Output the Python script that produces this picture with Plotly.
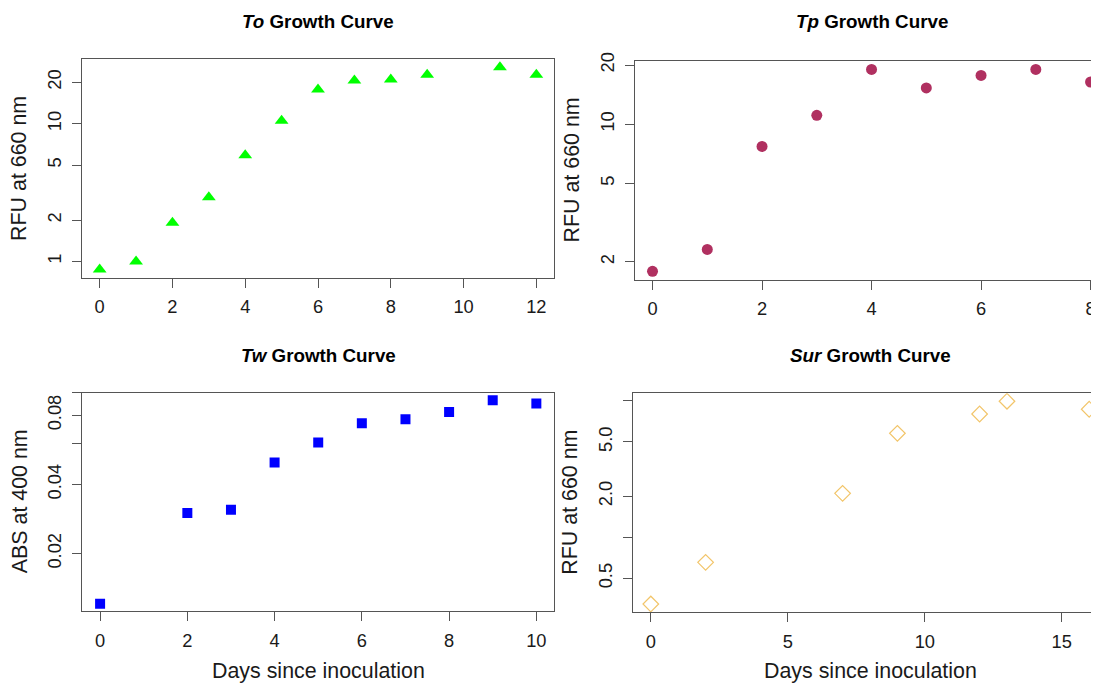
import plotly.graph_objects as go

W, H = 1099, 683
OFF = 8  # the page body offsets the figure by 8 px; positions below are page pixels

# ---------------- data ----------------
to_days = [0, 1, 2, 3, 4, 5, 6, 7, 8, 9, 11, 12]
to_rfu = [0.876, 1.0, 1.91, 2.93, 5.92, 10.5, 17.7, 20.6, 21.0, 22.7, 25.7, 22.7]

tp_days = [0, 1, 2, 3, 4, 5, 6, 7, 8]
tp_rfu = [1.79, 2.31, 7.71, 11.1, 19.0, 15.3, 17.7, 19.0, 16.4]

tw_days = [0, 2, 3, 4, 5, 6, 7, 8, 9, 10]
tw_abs = [0.0121, 0.0300, 0.0310, 0.0498, 0.0609, 0.0738, 0.0769, 0.0827, 0.0929, 0.0900]

sur_days = [0, 2, 7, 9, 12, 13, 16]
sur_rfu = [0.324, 0.655, 2.10, 5.79, 8.02, 9.95, 8.69]

to_xticks = [0, 2, 4, 6, 8, 10, 12]
tp_xticks = [0, 2, 4, 6, 8]
tw_xticks = [0, 2, 4, 6, 8, 10]
sur_xticks = [0, 5, 10, 15]

to_yticks = [1, 2, 5, 10, 20]
to_ylabels = ["1", "2", "5", "10", "20"]
tp_yticks = [2, 5, 10, 20]
tp_ylabels = ["2", "5", "10", "20"]
tw_yticks = [0.02, 0.04, 0.06, 0.08, 0.1]
tw_ylabels = ["0.02", "0.04", "", "0.08", ""]
sur_yticks = [0.5, 1, 2, 5, 10]
sur_ylabels = ["0.5", "", "2.0", "5.0", ""]

FONT = "Liberation Sans, Arial, Helvetica, sans-serif"
LINE = "#555555"
TXT = "#1a1a1a"


def px(x):
    return (x - OFF) / W


def py(y):
    return 1 - (y - OFF) / H


# panel boxes in page pixels: left, right, top, bottom
boxes = {
    "to": (82.2, 553.8, 59.3, 277.5),
    "tp": (635.0, W + OFF, 61.3, 279.5),
    "tw": (82.2, 553.8, 392.5, 611.0),
    "sur": (633.0, W + OFF, 393.3, 612.0),
}

fig = go.Figure()

fig.add_trace(go.Scatter(x=to_days, y=to_rfu, mode="markers", xaxis="x", yaxis="y",
                         marker=dict(symbol="triangle-up", size=12, color="#00FF00"),
                         showlegend=False))
fig.add_trace(go.Scatter(x=tp_days, y=tp_rfu, mode="markers", xaxis="x2", yaxis="y2",
                         marker=dict(symbol="circle", size=11, color="#B03060"),
                         showlegend=False))
fig.add_trace(go.Scatter(x=tw_days, y=tw_abs, mode="markers", xaxis="x3", yaxis="y3",
                         marker=dict(symbol="square", size=10, color="#0000FF"),
                         showlegend=False))
fig.add_trace(go.Scatter(x=sur_days, y=sur_rfu, mode="markers", xaxis="x4", yaxis="y4",
                         marker=dict(symbol="diamond-open", size=12, color="#F2C56A",
                                     line=dict(width=1.2)),
                         showlegend=False))


def xaxis(box, rng, ticks, anchor):
    l, r, t, b = box
    return dict(domain=[px(l), min(1.0, px(r))], range=rng, anchor=anchor,
                tickmode="array", tickvals=ticks, ticktext=[str(v) for v in ticks],
                showline=True, linecolor=LINE, linewidth=1, mirror=True,
                ticks="outside", ticklen=9, tickcolor=LINE, tickwidth=1,
                showgrid=False, zeroline=False, ticklabelstandoff=4, automargin=False,
                tickfont=dict(family=FONT, size=18.3, color=TXT))


def yaxis(box, rng, ticks, labels, anchor):
    l, r, t, b = box
    return dict(domain=[py(b), py(t)], range=rng, type="log", anchor=anchor,
                tickmode="array", tickvals=ticks, ticktext=labels,
                showline=True, linecolor=LINE, linewidth=1, mirror=True,
                ticks="outside", ticklen=9, tickcolor=LINE, tickwidth=1,
                showgrid=False, zeroline=False, tickangle=-90, ticklabelstandoff=4,
                automargin=False,
                tickfont=dict(family=FONT, size=18.3, color=TXT))


fig.update_layout(
    template="none",
    width=W, height=H, margin=dict(l=0, r=0, t=0, b=0, autoexpand=False),
    paper_bgcolor="white", plot_bgcolor="white",
    xaxis=xaxis(boxes["to"], [-0.48, 12.48], to_xticks, "y"),
    yaxis=yaxis(boxes["to"], [-0.116, 1.468], to_yticks, to_ylabels, "x"),
    xaxis2=xaxis(boxes["tp"], [-0.32, 8.30], tp_xticks, "y2"),
    yaxis2=yaxis(boxes["tp"], [0.211, 1.320], tp_yticks, tp_ylabels, "x2"),
    xaxis3=xaxis(boxes["tw"], [-0.41, 10.40], tw_xticks, "y3"),
    yaxis3=yaxis(boxes["tw"], [-1.949, -0.998], tw_yticks, tw_ylabels, "x3"),
    xaxis4=xaxis(boxes["sur"], [-0.65, 16.65], sur_xticks, "y4"),
    yaxis4=yaxis(boxes["sur"], [-0.548, 1.056], sur_yticks, sur_ylabels, "x4"),
    showlegend=False,
)

annotations = []
titles = [("<b><i>To</i> Growth Curve</b>", 318.0, 21.7),
          ("<b><i>Tp</i> Growth Curve</b>", 871.5, 21.7),
          ("<b><i>Tw</i> Growth Curve</b>", 318.0, 355.0),
          ("<b><i>Sur</i> Growth Curve</b>", 870.0, 355.0)]
for txt, x, y in titles:
    annotations.append(dict(text=txt, x=px(x), y=py(y), xref="paper", yref="paper",
                            xanchor="center", yanchor="middle", showarrow=False,
                            font=dict(family=FONT, size=18.8, color="#000000")))

ytitles = [("RFU at 660 nm", 19.5, (59.3 + 277.5) / 2),
           ("RFU at 660 nm", 572.0, (61.3 + 279.5) / 2),
           ("ABS at 400 nm", 19.5, (392.5 + 611.0) / 2),
           ("RFU at 660 nm", 570.0, (393.3 + 612.0) / 2)]
for txt, x, y in ytitles:
    annotations.append(dict(text=txt, x=px(x), y=py(y), xref="paper", yref="paper",
                            xanchor="center", yanchor="middle", showarrow=False,
                            textangle=-90,
                            font=dict(family=FONT, size=21.4, color=TXT)))

xtitles = [("Days since inoculation", 318.0, 670.7),
           ("Days since inoculation", 870.0, 671.2)]
for txt, x, y in xtitles:
    annotations.append(dict(text=txt, x=px(x), y=py(y), xref="paper", yref="paper",
                            xanchor="center", yanchor="middle", showarrow=False,
                            font=dict(family=FONT, size=21.4, color=TXT)))

fig.update_layout(annotations=annotations)

fig.write_html("out.html")
